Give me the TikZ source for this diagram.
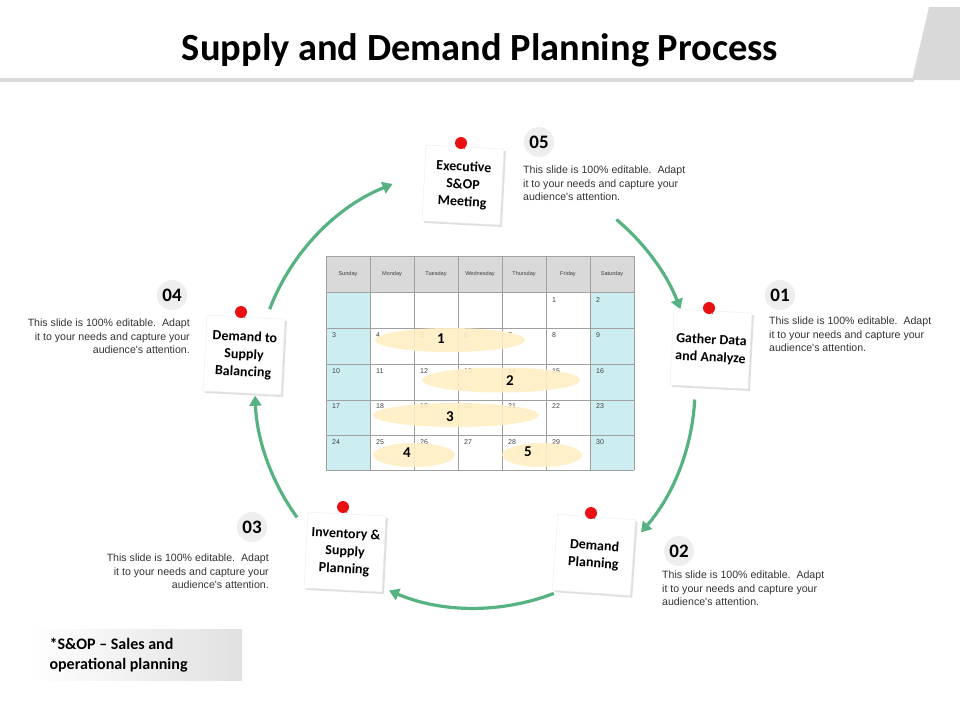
\documentclass[tikz,border=0pt]{standalone}
\usepackage{fontspec}
\setmainfont{Carlito}
\newfontfamily\descfont{Liberation Sans}
\usetikzlibrary{arrows.meta,shadows,calc}
\definecolor{flowgreen}{RGB}{87,178,130}
\definecolor{calcyan}{RGB}{205,238,241}
\definecolor{calhead}{RGB}{217,217,217}
\definecolor{calgrid}{RGB}{160,160,160}
\definecolor{hilite}{RGB}{255,238,196}
\definecolor{pinred}{RGB}{232,16,16}
\definecolor{numbg}{RGB}{238,238,238}
\tikzset{
  flow/.style={draw=flowgreen,line width=3.2pt,-{Triangle[length=10pt,width=12pt]}},
  note/.style={draw=black!8,fill=white,drop shadow={shadow xshift=2pt,shadow yshift=-2pt,opacity=0.25},
    minimum width=78pt,minimum height=76pt,align=center,font=\bfseries\fontsize{14}{17.5}\selectfont},
  stepnum/.style={circle,fill=numbg,minimum size=30pt,inner sep=0pt,font=\bfseries\fontsize{19}{19}\selectfont},
  desc/.style={font=\descfont\fontsize{10.6}{13.2}\selectfont,inner sep=0pt,text=black!80},
  daynum/.style={anchor=north west,inner sep=0pt,font=\descfont\fontsize{7}{7}\selectfont,text=black!75},
  dayname/.style={inner sep=0pt,font=\descfont\fontsize{5.6}{5.6}\selectfont,text=black!75},
  band/.style={fill=hilite,opacity=0.9},
  bandnum/.style={font=\bfseries\fontsize{15}{15}\selectfont}
}
\newcommand{\pushpin}[1]{%
  \draw[black!45,line width=1pt] ($(#1)+(0,0)$) -- ++(4,6);
  \fill[pinred] (#1) circle[radius=6];}
\newcommand{\desctext}{This slide is 100\% editable.\ \ Adapt\\it to your needs and capture your\\audience's attention.}
\begin{document}
\begin{tikzpicture}[x=1pt,y=-1pt]
	\useasboundingbox (0,0) rectangle (960,720);
	%header
	\fill[black!15] (0,78) rectangle (914,82);
	\fill[black!15] (929,7) -- (960,7) -- (960,80) -- (912,80) -- cycle;
	\node[font=\bfseries\fontsize{38.4}{38.4}\selectfont] (title) at (480,50) {Supply and Demand Planning Process};

	%calendar
	\fill[calhead] (326,256) rectangle (634,292);
	\fill[calcyan] (326,292) rectangle (370,470);
	\fill[calcyan] (590,292) rectangle (634,470);
	\foreach \i/\d in {0/Sunday,1/Monday,2/Tuesday,3/Wednesday,4/Thursday,5/Friday,6/Saturday}
	  \node[dayname] (hd\i) at (348+44*\i,274) {\d};
	\foreach \y in {256,292,328,364,400,435,470}
	  \draw[calgrid,line width=0.8pt] (326,\y) -- (634,\y);
	\foreach \x in {326,370,414,458,502,546,590,634}
	  \draw[calgrid,line width=0.8pt] (\x,256) -- (\x,470);
	\foreach \n in {1,...,30}{
	  \pgfmathtruncatemacro{\c}{mod(\n+4,7)}
	  \pgfmathtruncatemacro{\r}{div(\n+4,7)}
	  \node[daynum] (d\n) at (332+44*\c,297+35.6*\r) {\n};
	}
	%highlight bands
	\fill[band] (450,340) ellipse[x radius=75,y radius=12];
	\fill[band] (501,380) ellipse[x radius=79,y radius=12.5];
	\fill[band] (456,415) ellipse[x radius=83,y radius=12];
	\fill[band] (414,455) ellipse[x radius=41,y radius=12];
	\fill[band] (542,455) ellipse[x radius=40,y radius=12];
	\node[bandnum] (b1) at (441,339) {1};
	\node[bandnum] (b2) at (510,381) {2};
	\node[bandnum] (b3) at (450,417) {3};
	\node[bandnum] (b4) at (407,453) {4};
	\node[bandnum] (b5) at (528,452) {5};

	%cycle arrows
	\coordinate (ctr) at (475,388);
	\draw[flow] ($(ctr)+(-159:220)$) arc[start angle=-159,end angle=-112,radius=220];
	\draw[flow] ($(ctr)+(-50:220)$) arc[start angle=-50,end angle=-21,radius=220];
	\draw[flow] ($(ctr)+(3:220)$) arc[start angle=3,end angle=41,radius=220];
	\draw[flow] ($(ctr)+(69:220)$) arc[start angle=69,end angle=113,radius=220];
	\draw[flow] ($(ctr)+(144:220)$) arc[start angle=144,end angle=178,radius=220];

	%notes
	\node[note,rotate=-3] (exec) at (463,185) {Executive\\S\&OP\\Meeting};
	\node[note,rotate=-3] (gather) at (711,349) {Gather Data\\and Analyze};
	\node[note,rotate=-4] (dplan) at (594,555) {Demand\\Planning};
	\node[note,rotate=-3] (inv) at (345,552) {Inventory \&\\Supply\\Planning};
	\node[note,rotate=-3] (bal) at (244,355) {Demand to\\Supply\\Balancing};
	\pushpin{461,143}
	\pushpin{709,308}
	\pushpin{591,513}
	\pushpin{343,507}
	\pushpin{241,312}

	%step numbers and texts
	\node[stepnum] (n5) at (539,142) {05};
	\node[stepnum] (n1) at (780,295) {01};
	\node[stepnum] (n2) at (679,551) {02};
	\node[stepnum] (n3) at (252,527) {03};
	\node[stepnum] (n4) at (172,295) {04};
	\node[desc,anchor=north west,align=left] (t5) at (523,166) {\desctext};
	\node[desc,anchor=north west,align=left] (t1) at (769,317) {\desctext};
	\node[desc,anchor=north west,align=left] (t2) at (662,571) {\desctext};
	\node[desc,anchor=north east,align=right] (t3) at (269,554) {\desctext};
	\node[desc,anchor=north east,align=right] (t4) at (190,319) {\desctext};

	%footnote
	\shade[left color=white,right color=black!12] (30,629) rectangle (242,680);
	\node[anchor=west,align=left,font=\bfseries\fontsize{16}{20}\selectfont] (foot) at (46,655) {*S\&OP -- Sales and\\operational planning};
\end{tikzpicture}
\end{document}
